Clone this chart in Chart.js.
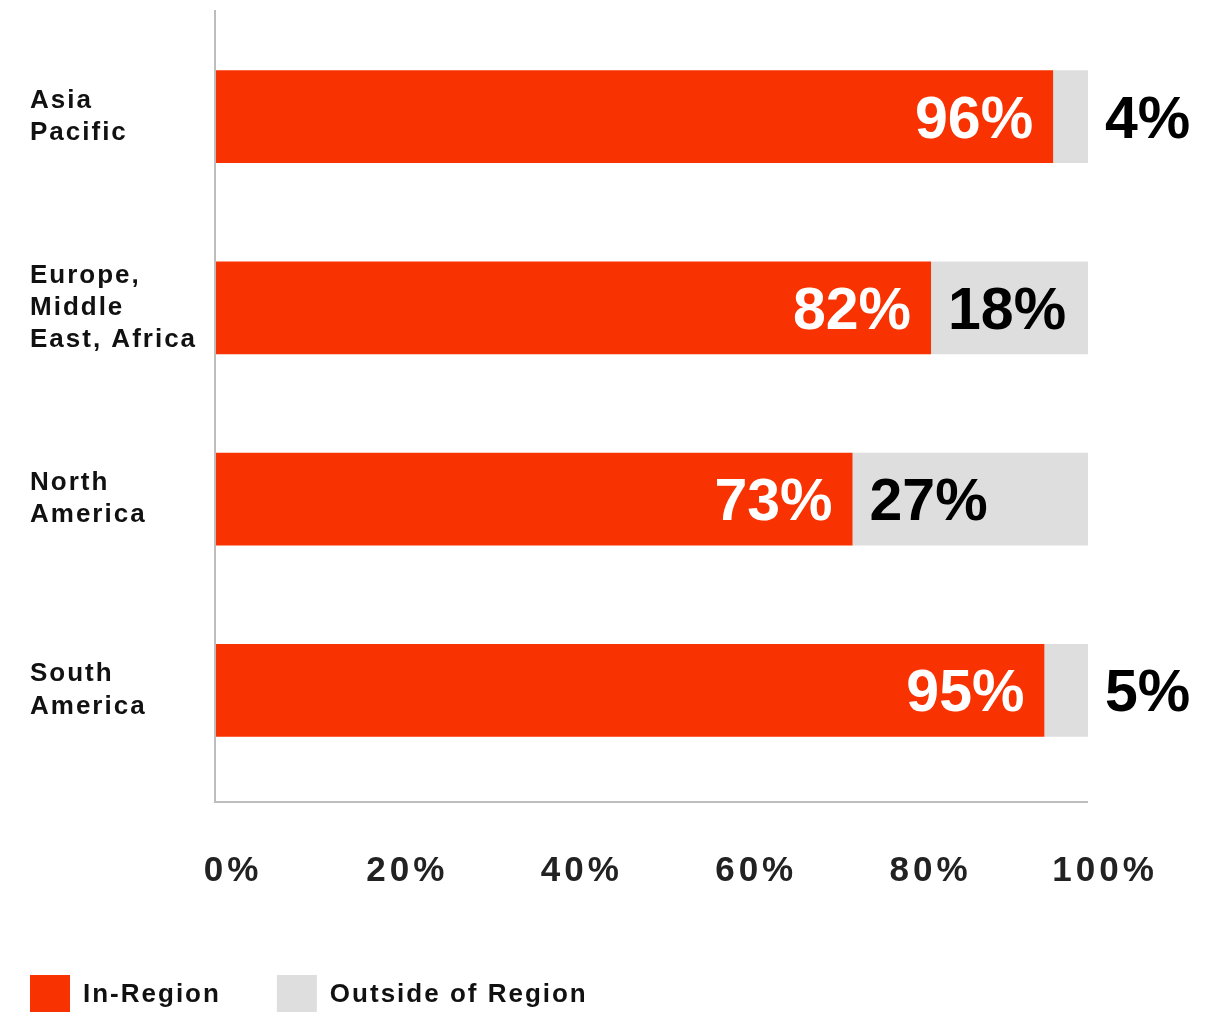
<!DOCTYPE html>
<html>
<head>
<meta charset="utf-8">
<script src="https://cdn.jsdelivr.net/npm/chart.js@4.4.1/dist/chart.umd.min.js"></script>
<style>
  html, body { margin: 0; padding: 0; background: #fff; overflow: hidden; }
  canvas { display: block; }
</style>
</head>
<body>
<canvas id="c" width="1225" height="1025"></canvas>
<script>
// datos
const regiones = [['Asia', 'Pacific'], ['Europe,', 'Middle', 'East, Africa'], ['North', 'America'], ['South', 'America']];
const enRegion = [96, 82, 73, 95];
const fueraRegion = [4, 18, 27, 5];
const nombresSeries = ['In-Region', 'Outside of Region'];
const ticksX = [0, 20, 40, 60, 80, 100];

const ROJO = '#F83200';
const GRIS = '#DEDEDE';
const FONT = '"Liberation Sans", Arial, Helvetica, sans-serif';

// envuelve un método de dibujo (etiquetas de escala / leyenda) para moverlo y darle espaciado de letras
function envolver(caja, metodo, dx, esp) {
    if (!caja || caja['_env_' + metodo]) return;
    const orig = caja[metodo].bind(caja);
    caja[metodo] = function (area) {
        const ctx = this.ctx;
        ctx.save();
        ctx.letterSpacing = esp;
        ctx.translate(dx, 0);
        orig(area);
        ctx.restore();
    };
    caja['_env_' + metodo] = true;
}

// quita el relleno automático que la escala añade por sus etiquetas
function sinRelleno(s) {
    s.paddingTop = 0; s.paddingBottom = 0; s.paddingLeft = 0; s.paddingRight = 0;
}

const pluginEstilo = {
    id: 'estilo',
    beforeLayout(chart) { chart.ctx.letterSpacing = '2px'; },
    beforeDraw(chart) {
        envolver(chart.scales.x, 'drawLabels', 0, '4px');
        envolver(chart.scales.y, 'drawLabels', 30, '2px');
        envolver(chart.legend, 'draw', -26, '2px');
    },
    beforeDatasetsDraw(chart) {
        const { ctx, chartArea: a } = chart;
        ctx.letterSpacing = '0px';
        // ejes grises
        ctx.save();
        ctx.strokeStyle = '#BDBDBD';
        ctx.lineWidth = 2;
        ctx.beginPath();
        ctx.moveTo(a.left - 1, a.top - 11);
        ctx.lineTo(a.left - 1, a.bottom + 16);
        ctx.lineTo(a.right, a.bottom + 16);
        ctx.stroke();
        ctx.restore();
    },
    afterDatasetsDraw(chart) {
        const ctx = chart.ctx;
        const rojos = chart.getDatasetMeta(0).data;
        const grises = chart.getDatasetMeta(1).data;
        ctx.save();
        ctx.letterSpacing = '0px';
        ctx.font = 'bold 59px ' + FONT;
        ctx.textBaseline = 'alphabetic';
        rojos.forEach((bar, i) => {
            const y = bar.y + 21;
            ctx.fillStyle = '#fff';
            ctx.textAlign = 'right';
            ctx.fillText(enRegion[i] + '%', bar.x - 20, y);
            const g = grises[i];
            const txt = fueraRegion[i] + '%';
            const w = ctx.measureText(txt).width;
            ctx.fillStyle = '#000';
            ctx.textAlign = 'left';
            if (g.x - g.base >= w + 32) ctx.fillText(txt, g.base + 17, y);
            else ctx.fillText(txt, g.x + 17, y);
        });
        ctx.restore();
    }
};

new Chart(document.getElementById('c'), {
    type: 'bar',
    data: {
        labels: regiones,
        datasets: [
            { label: nombresSeries[0], data: enRegion, backgroundColor: ROJO },
            { label: nombresSeries[1], data: fueraRegion, backgroundColor: GRIS }
        ]
    },
    options: {
        indexAxis: 'y',
        responsive: false,
        animation: false,
        events: [],
        layout: { padding: { left: 0, right: 137, top: 21, bottom: 0 } },
        datasets: { bar: { barPercentage: 0.486, categoryPercentage: 1, borderWidth: 0 } },
        scales: {
            x: {
                stacked: true,
                min: 0,
                max: 100,
                afterBuildTicks(s) { s.ticks = ticksX.map(v => ({ value: v })); },
                afterFit(s) { s.height = 133; sinRelleno(s); },
                grid: { display: false, drawTicks: false },
                border: { display: false },
                ticks: {
                    padding: 64,
                    labelOffset: 17,
                    color: '#222',
                    font: { family: FONT, size: 35, weight: 'bold' },
                    callback: v => v + '%'
                }
            },
            y: {
                stacked: true,
                afterFit(s) { s.width = 216; sinRelleno(s); },
                grid: { display: false, drawTicks: false },
                border: { display: false },
                ticks: {
                    crossAlign: 'far',
                    color: '#111',
                    font: { family: FONT, size: 26, weight: 'bold', lineHeight: 1.24 }
                }
            }
        },
        plugins: {
            tooltip: { enabled: false },
            legend: {
                position: 'bottom',
                align: 'start',
                labels: {
                    boxWidth: 40,
                    boxHeight: 40,
                    padding: 56,
                    color: '#111',
                    font: { family: FONT, size: 26, weight: 'bold' }
                }
            }
        }
    },
    plugins: [pluginEstilo]
});
</script>
</body>
</html>
